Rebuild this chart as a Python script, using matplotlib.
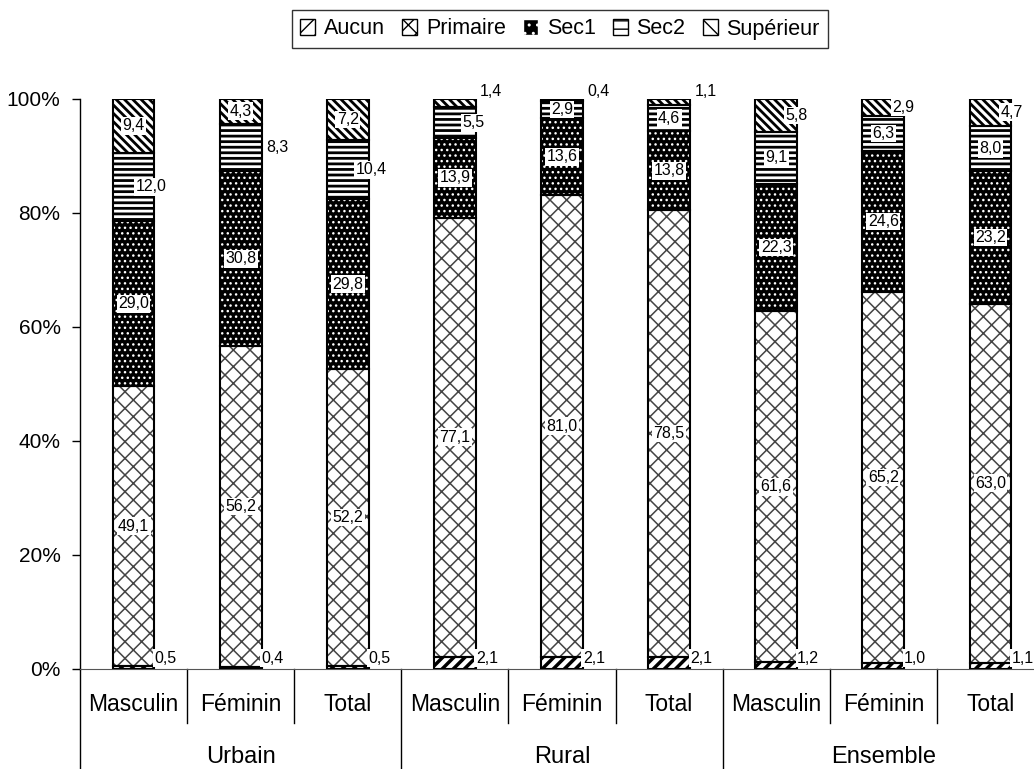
import numpy as np
import matplotlib
matplotlib.use("Agg")
import matplotlib.pyplot as plt
from matplotlib.patches import Patch
import matplotlib.transforms as mtransforms

plt.rcParams['font.family'] = ['Liberation Sans', 'DejaVu Sans']

# Données (%)
sexes = ["Masculin", "Féminin", "Total"] * 3
milieux = ["Urbain", "Rural", "Ensemble"]
niveaux = ["Aucun", "Primaire", "Sec1", "Sec2", "Supérieur"]

aucun     = [0.5, 0.4, 0.5, 2.1, 2.1, 2.1, 1.2, 1.0, 1.1]
primaire  = [49.1, 56.2, 52.2, 77.1, 81.0, 78.5, 61.6, 65.2, 63.0]
sec1      = [29.0, 30.8, 29.8, 13.9, 13.6, 13.8, 22.3, 24.6, 23.2]
sec2      = [12.0, 8.3, 10.4, 5.5, 2.9, 4.6, 9.1, 6.3, 8.0]
superieur = [9.4, 4.3, 7.2, 1.4, 0.4, 1.1, 5.8, 2.9, 4.7]

series = [aucun, primaire, sec1, sec2, superieur]
vals = np.array(series)
pct = vals / vals.sum(axis=0) * 100  # graphique empilé à 100 %

# décalages des étiquettes (en unités de catégorie)
dx_sec2 = [0.16, 0.34, 0.22, 0.17, 0, 0, 0, 0, 0]
dx_sup = [0, 0, 0, 0.34, 0.34, 0.34, 0.19, 0.19, 0.2]
sup_en_haut = [False, False, False, True, True, True, False, False, False]

# styles : (couleur de fond, motif, couleur du motif, épaisseur du motif)
styles = [
    ("white", "///", "black", 2.5),
    ("white", "xx", "#444444", 1.1),
    ("black", "...", "white", 1.0),
    ("white", "---", "black", 2.0),
    ("white", "\\\\\\\\", "black", 2.0),
]

fig = plt.figure(figsize=(10.34, 7.69), dpi=100)
ax = fig.add_axes([80 / 1034, 100 / 769, 964 / 1034, 570 / 769])

x = np.arange(len(sexes))
w = 0.39
bottom = np.zeros(len(sexes))
for k, nom in enumerate(niveaux):
    fc, hatch, hc, hlw = styles[k]
    bars = ax.bar(x, pct[k], w, bottom=bottom, color=fc, edgecolor=hc,
                  hatch=hatch, linewidth=0, zorder=2)
    for b in bars:
        if hasattr(b, "set_hatch_linewidth"):
            b.set_hatch_linewidth(hlw)
    ax.bar(x, pct[k], w, bottom=bottom, color="none", edgecolor="black",
           linewidth=1.5, zorder=3)
    bottom += pct[k]

# étiquettes de données
lab_kw = dict(fontsize=11.5, zorder=5)
box = dict(facecolor="white", edgecolor="none", pad=1.0)
cum = np.cumsum(pct, axis=0)
for i in range(len(sexes)):
    # Aucun : à droite, en bas
    ax.text(x[i] + w / 2, 1.9, f"{aucun[i]:.1f}".replace(".", ","),
            ha="left", va="center", bbox=box, **lab_kw)
    for k in (1, 2, 3, 4):
        txt = f"{series[k][i]:.1f}".replace(".", ",")
        yc = cum[k][i] - pct[k][i] / 2
        xc = x[i]
        if k == 3:
            xc += dx_sec2[i]
        if k == 4:
            xc += dx_sup[i]
            if sup_en_haut[i]:
                ax.text(xc, 101.3, txt, ha="center", va="center", **lab_kw)
                continue
        ax.text(xc, yc, txt, ha="center", va="center", bbox=box, **lab_kw)

ax.set_xlim(-0.5, len(sexes) - 0.5)
ax.set_ylim(0, 100)
ax.set_yticks(np.arange(0, 101, 20))
ax.set_yticklabels([f"{v}%" for v in range(0, 101, 20)], fontsize=15)
ax.tick_params(axis="y", length=6, width=1, direction="out", pad=8)
ax.set_xticks([])
for s in ("top", "right"):
    ax.spines[s].set_visible(False)
ax.spines["bottom"].set_color("#555555")
ax.spines["left"].set_linewidth(1)

# étiquettes de catégories et séparateurs
trans = mtransforms.blended_transform_factory(ax.transData, ax.transAxes)
for i, s in enumerate(sexes):
    ax.text(x[i], -0.063, s, transform=trans, ha="center", va="center",
            fontsize=16.5, clip_on=False)
for j in range(len(sexes)):
    xb = j - 0.5
    if j % 3 == 0:
        ax.plot([xb, xb], [0, -0.18], transform=trans, color="black",
                lw=1, clip_on=False)
    else:
        ax.plot([xb, xb], [0, -0.095], transform=trans, color="black",
                lw=1, clip_on=False)
for g, m in enumerate(milieux):
    ax.text(3 * g + 1, -0.154, m, transform=trans, ha="center", va="center",
            fontsize=17, clip_on=False)

# légende
handles = []
for k, nom in enumerate(niveaux):
    fc, hatch, hc, hlw = styles[k]
    h = Patch(facecolor=fc, edgecolor=hc if k == 2 else "black", hatch=hatch[:2],
              linewidth=1)
    handles.append(h)
leg = fig.legend(handles, niveaux, loc="center", bbox_to_anchor=(560 / 1034, 1 - 29 / 769),
                 ncol=5, fontsize=15.5, frameon=True, fancybox=False,
                 handlelength=0.7, handleheight=0.7, handletextpad=0.4,
                 columnspacing=0.8, borderpad=0.4, edgecolor="black")
leg.get_frame().set_linewidth(1)

fig.savefig("out.png", dpi=100)
